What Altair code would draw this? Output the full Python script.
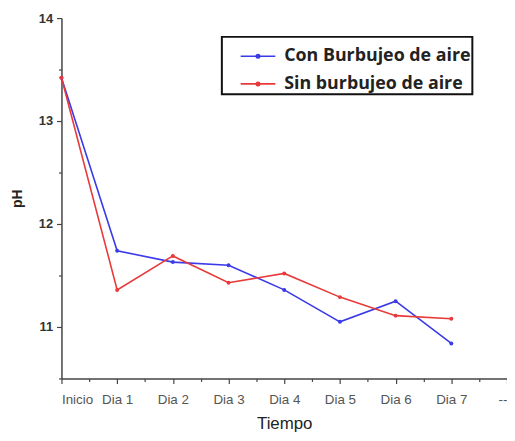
import altair as alt
import pandas as pd

tiempo_labels = ["Inicio", "Dia 1", "Dia 2", "Dia 3", "Dia 4", "Dia 5", "Dia 6", "Dia 7", "--"]
x_index = [0, 1, 2, 3, 4, 5, 6, 7]
con_burbujeo = [13.42, 11.74, 11.63, 11.60, 11.36, 11.05, 11.25, 10.84]
sin_burbujeo = [13.42, 11.36, 11.69, 11.43, 11.52, 11.29, 11.11, 11.08]
series_names = ["Con Burbujeo de aire", "Sin burbujeo de aire"]
series_colors = ["#3a3ae8", "#e83a3a"]

rows = []
for name, vals in zip(series_names, [con_burbujeo, sin_burbujeo]):
    for xi, v in zip(x_index, vals):
        rows.append({"x": xi, "pH": v, "serie": name})
df = pd.DataFrame(rows)

label_js = "[" + ",".join("'%s'" % l for l in tiempo_labels) + "]"

x_enc = alt.X(
    "x:Q",
    scale=alt.Scale(domain=[0, 8], nice=False, zero=False),
    axis=alt.Axis(
        title="Tiempo",
        values=[i * 0.5 for i in range(17)],
        labelExpr=f"datum.value % 1 == 0 ? {label_js}[datum.value] : ''",
        tickSize={"condition": {"test": "datum.value % 1 == 0", "value": 5}, "value": 3},
        grid=False,
        labelFontSize=13.5,
        labelColor="#555",
        labelFont="Liberation Sans",
        labelPadding=9,
        titleFont="Liberation Sans",
        titleFontSize=17,
        titleFontWeight="normal",
        titleColor="#222",
        titlePadding=10,
        domainColor="#444",
        domainWidth=1.5,
        tickColor="#444",
        tickWidth=1.2,
        labelOverlap=False,
    ),
)
y_enc = alt.Y(
    "pH:Q",
    scale=alt.Scale(domain=[10.5, 14], nice=False, zero=False),
    axis=alt.Axis(
        title="pH",
        values=[10.5 + i * 0.5 for i in range(8)],
        labelExpr="datum.value % 1 == 0 ? datum.value : ''",
        tickSize={"condition": {"test": "datum.value % 1 == 0", "value": 5}, "value": 3},
        grid=False,
        labelFontSize=13,
        labelFontWeight="bold",
        labelColor="#333",
        labelFont="Liberation Sans",
        labelPadding=4,
        titleFont="Liberation Sans",
        titleFontSize=14,
        titleFontWeight="bold",
        titleColor="#222",
        titlePadding=14,
        domainColor="#444",
        domainWidth=1.5,
        tickColor="#444",
        tickWidth=1.2,
        labelOverlap=False,
    ),
)

color_enc = alt.Color(
    "serie:N",
    scale=alt.Scale(domain=series_names, range=series_colors),
    legend=alt.Legend(
        title=None,
        orient="none",
        legendX=162,
        legendY=19,
        direction="vertical",
        padding=1,
        strokeColor="#111",
        symbolType="M-1,0H1M-0.1,0A0.1,0.1 0 1,1 0.1,0A0.1,0.1 0 1,1 -0.1,0Z",
        symbolSize=1225,
        symbolStrokeWidth=1.6,
        labelFontSize=18,
        labelFontWeight="bold",
        labelFont="Open Sans",
        labelColor="#222",
        labelLimit=300,
        labelOffset=8,
        rowPadding=-5,
        symbolOffset=17,
    ),
)

lines = alt.Chart(df).mark_line(strokeWidth=1.6, point=alt.OverlayMarkDef(filled=True, size=16)).encode(
    x=x_enc, y=y_enc, color=color_enc
)

chart = lines.properties(
    width=450,
    height=364,
    autosize=alt.AutoSizeParams(type="none"),
    padding={"left": 54, "top": 8, "right": 0, "bottom": 60},
    background="white",
).configure_view(stroke=None).configure_legend(strokeWidth=2)

chart.save("out.html", embed_options={"renderer": "svg", "actions": False})
